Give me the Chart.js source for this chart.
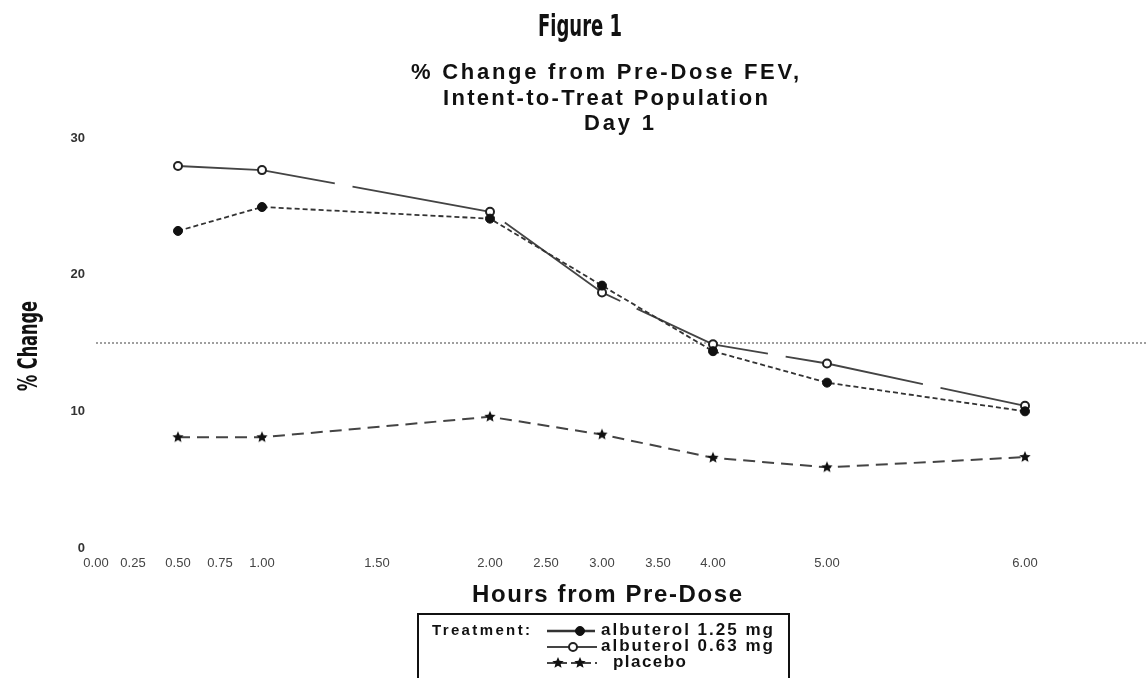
<!DOCTYPE html>
<html>
<head>
<meta charset="utf-8">
<script src="https://cdn.jsdelivr.net/npm/chart.js@4.4.0/dist/chart.umd.min.js"></script>
<style>
  html, body { margin: 0; padding: 0; background: #fff; }
  #wrap { width: 1147px; height: 678px; }
</style>
</head>
<body>
<div id="wrap"><canvas id="fig" width="1147" height="678"></canvas></div>
<script>
// data
const hours = [0.5, 1, 2, 3, 4, 5, 6];
const albuterol125 = [23.2, 24.95, 24.1, 19.2, 14.4, 12.1, 10.0];
const albuterol063 = [27.95, 27.65, 24.6, 18.7, 14.9, 13.5, 10.4];
const placebo = [8.1, 8.1, 9.6, 8.3, 6.6, 5.9, 6.65];
const xTicks = [0, 0.25, 0.5, 0.75, 1, 1.5, 2, 2.5, 3, 3.5, 4, 5, 6];
const yTicks = [0, 10, 20, 30];
const refLine = 15;
const seriesNames = ['albuterol 1.25 mg', 'albuterol 0.63 mg', 'placebo'];

// the original hour axis is not evenly stretched: hour breakpoints and their
// relative axis lengths
const axisHours = [0, 0.25, 0.5, 0.75, 1, 1.5, 2, 2.5, 3, 3.5, 4, 5, 6, 6.62];
const axisStretch = [0, 0.37, 0.82, 1.24, 1.66, 2.81, 3.94, 4.5, 5.06, 5.62, 6.17, 7.31, 9.29, 10.51];

const SANS = '"Liberation Sans", Arial, sans-serif';
const NARROW = '"Liberation Sans Narrow", "DejaVu Sans Condensed", sans-serif';

function warp(h) {
    const n = axisHours.length;
    for (let i = 1; i < n; i++) {
        if (h <= axisHours[i] || i === n - 1) {
            const t = (h - axisHours[i - 1]) / (axisHours[i] - axisHours[i - 1]);
            return axisStretch[i - 1] + t * (axisStretch[i] - axisStretch[i - 1]);
        }
    }
    return 0;
}
function unwarp(u) {
    const n = axisStretch.length;
    for (let i = 1; i < n; i++) {
        if (u <= axisStretch[i] || i === n - 1) {
            const t = (u - axisStretch[i - 1]) / (axisStretch[i] - axisStretch[i - 1]);
            return axisHours[i - 1] + t * (axisHours[i] - axisHours[i - 1]);
        }
    }
    return 0;
}

const LinearScale = Chart.LinearScale || Chart.registry.getScale('linear');
class WarpedScale extends LinearScale {
    getPixelForValue(v) { return super.getPixelForValue(warp(v)); }
    getValueForPixel(p) { return unwarp(super.getValueForPixel(p)); }
}
WarpedScale.id = 'warped';
WarpedScale.defaults = LinearScale.defaults;
Chart.register(WarpedScale);

function starImage(r) {
    const c = document.createElement('canvas');
    c.width = c.height = r * 2 + 2;
    const g = c.getContext('2d');
    g.translate(r + 1, r + 1);
    g.beginPath();
    for (let i = 0; i < 10; i++) {
        const a = -Math.PI / 2 + i * Math.PI / 5;
        const rr = i % 2 ? r * 0.45 : r;
        g.lineTo(rr * Math.cos(a), rr * Math.sin(a));
    }
    g.closePath();
    g.fillStyle = '#111';
    g.fill();
    return c;
}
const star = starImage(6);

function pts(vals) {
    return hours.map((h, i) => ({ x: h, y: vals[i] }));
}

// text helpers
function spaced(ctx, text, left, cy, font, width) {
    ctx.font = font;
    ctx.letterSpacing = '0px';
    const w = ctx.measureText(text).width;
    const sp = (width - w) / Math.max(1, text.length - 1);
    ctx.letterSpacing = sp.toFixed(2) + 'px';
    ctx.textAlign = 'left';
    ctx.textBaseline = 'middle';
    ctx.fillText(text, left, cy);
    ctx.letterSpacing = '0px';
}

function squeezed(ctx, text, cx, cy, font, width, angle) {
    ctx.save();
    ctx.font = font;
    const w = ctx.measureText(text).width;
    ctx.translate(cx, cy);
    if (angle) ctx.rotate(angle);
    ctx.scale(width / w, 1);
    ctx.textAlign = 'center';
    ctx.textBaseline = 'middle';
    ctx.fillText(text, 0, 0);
    ctx.restore();
}

function sample(ctx, ds, x0, x1, y, marks) {
    ctx.save();
    ctx.strokeStyle = ds.borderColor;
    ctx.lineWidth = ds.legendWidth || ds.borderWidth;
    ctx.setLineDash(ds.legendDash || []);
    ctx.beginPath();
    ctx.moveTo(x0, y);
    ctx.lineTo(x1, y);
    ctx.stroke();
    ctx.setLineDash([]);
    marks.forEach(mx => {
        if (ds.pointStyle === 'circle') {
            ctx.beginPath();
            ctx.arc(mx, y, ds.pointRadius, 0, Math.PI * 2);
            ctx.fillStyle = ds.pointBackgroundColor;
            ctx.fill();
            ctx.lineWidth = ds.pointBorderWidth;
            ctx.strokeStyle = ds.pointBorderColor;
            ctx.stroke();
        } else {
            ctx.drawImage(ds.pointStyle, mx - ds.pointStyle.width / 2, y - ds.pointStyle.height / 2);
        }
    });
    ctx.restore();
}

const figureText = {
    id: 'figureText',
    afterDraw(chart) {
        const ctx = chart.ctx;
        ctx.save();
        ctx.fillStyle = '#111';

        squeezed(ctx, 'Figure 1', 580, 28, 'bold 30px ' + NARROW, 84);
        spaced(ctx, '% Change from Pre-Dose FEV,', 411, 73, 'bold 22px ' + SANS, 388);
        spaced(ctx, 'Intent-to-Treat Population', 443, 99, 'bold 22px ' + SANS, 325);
        spaced(ctx, 'Day 1', 584, 124, 'bold 22px ' + SANS, 70);

        squeezed(ctx, '% Change', 30, 346, 'bold 26px ' + NARROW, 90, -Math.PI / 2);
        spaced(ctx, 'Hours from Pre-Dose', 472, 595, 'bold 24px ' + SANS, 270);

        // legend box
        ctx.strokeStyle = '#111';
        ctx.lineWidth = 2;
        ctx.strokeRect(418, 614, 371, 80);
        spaced(ctx, 'Treatment:', 432, 631, 'bold 15px ' + SANS, 98);

        const ds = chart.data.datasets;
        const rows = [630, 646, 662];
        sample(ctx, ds[0], 547, 595, rows[0] + 1, [580]);
        sample(ctx, ds[1], 547, 597, rows[1] + 1, [573]);
        sample(ctx, ds[2], 547, 597, rows[2] + 1, [558, 580]);
        ctx.fillStyle = '#111';
        spaced(ctx, seriesNames[0], 601, rows[0], 'bold 17px ' + SANS, 172);
        spaced(ctx, seriesNames[1], 601, rows[1], 'bold 17px ' + SANS, 172);
        spaced(ctx, seriesNames[2], 613, rows[2], 'bold 17px ' + SANS, 73);
        ctx.restore();
    }
};

const chart = new Chart(document.getElementById('fig'), {
    type: 'line',
    data: {
        datasets: [
            {
                label: seriesNames[0],
                data: pts(albuterol125),
                borderColor: '#333',
                borderWidth: 1.8,
                borderDash: [5, 3],
                legendDash: [],
                legendWidth: 2.4,
                pointStyle: 'circle',
                pointRadius: 4.5,
                pointBackgroundColor: '#111',
                pointBorderColor: '#111',
                pointBorderWidth: 1,
                clip: false,
            },
            {
                label: seriesNames[1],
                data: pts(albuterol063),
                borderColor: '#444',
                borderWidth: 1.8,
                borderDash: [140, 18],
                borderDashOffset: 66,
                // first leg is unbroken, the long dash starts at 1 h
                segment: { borderDash: c => (c.p0DataIndex === 0 ? [] : undefined) },
                legendDash: [],
                pointStyle: 'circle',
                pointRadius: 4,
                pointBackgroundColor: '#fff',
                pointBorderColor: '#222',
                pointBorderWidth: 2,
                clip: false,
            },
            {
                label: seriesNames[2],
                data: pts(placebo),
                borderColor: '#444',
                borderWidth: 2,
                borderDash: [12, 7],
                legendDash: [8, 4],
                pointStyle: star,
                pointRadius: 6,
                clip: false,
            },
            {
                label: 'reference',
                data: [{ x: 0, y: refLine }, { x: axisHours[axisHours.length - 1], y: refLine }],
                borderColor: '#888',
                borderWidth: 1.6,
                borderDash: [2, 2],
                pointRadius: 0,
                clip: false,
            },
        ],
    },
    options: {
        responsive: false,
        animation: false,
        layout: { autoPadding: false, padding: { top: 138, left: 0, right: 0, bottom: 0 } },
        plugins: {
            legend: { display: false },
            tooltip: { enabled: false },
        },
        scales: {
            x: {
                type: 'warped',
                min: 0,
                max: axisStretch[axisStretch.length - 1],
                grid: { display: false, drawTicks: false },
                border: { display: false },
                afterBuildTicks: s => { s.ticks = xTicks.map(v => ({ value: v })); },
                afterFit: s => { s.height = 130; },
                ticks: {
                    autoSkip: false,
                    maxRotation: 0,
                    padding: 8,
                    color: '#444',
                    font: { family: SANS, size: 13 },
                    callback: v => Number(v).toFixed(2),
                },
            },
            y: {
                min: 0,
                max: 30,
                grid: { display: false, drawTicks: false },
                border: { display: false },
                afterBuildTicks: s => { s.ticks = yTicks.map(v => ({ value: v })); },
                afterFit: s => { s.width = 96; },
                ticks: {
                    padding: 11,
                    color: '#333',
                    font: { family: SANS, size: 13, weight: 'bold' },
                },
            },
        },
    },
    plugins: [figureText],
});
</script>
</body>
</html>
